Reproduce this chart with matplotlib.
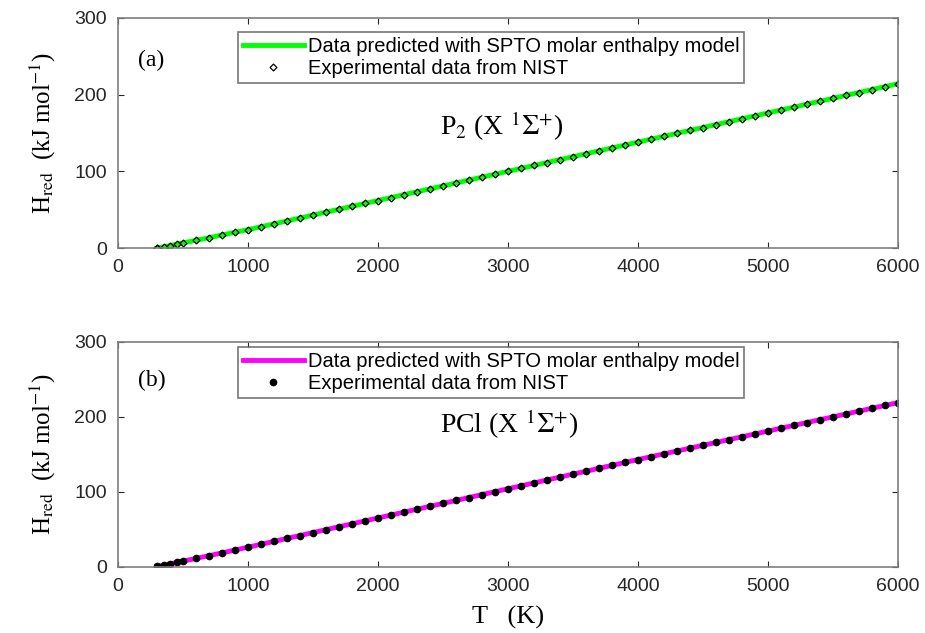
import numpy as np
import matplotlib
matplotlib.use('Agg')
import matplotlib.pyplot as plt

plt.rcParams['font.family'] = ['Liberation Sans', 'DejaVu Sans']
plt.rcParams['mathtext.fontset'] = 'stix'

# temperatures of the NIST (JANAF) table, K
T = [298.15, 300, 350, 400, 450, 500, 600, 700, 800, 900,
     1000, 1100, 1200, 1300, 1400, 1500, 1600, 1700, 1800, 1900,
     2000, 2100, 2200, 2300, 2400, 2500, 2600, 2700, 2800, 2900,
     3000, 3100, 3200, 3300, 3400, 3500, 3600, 3700, 3800, 3900,
     4000, 4100, 4200, 4300, 4400, 4500, 4600, 4700, 4800, 4900,
     5000, 5100, 5200, 5300, 5400, 5500, 5600, 5700, 5800, 5900, 6000]

# P2 reduced enthalpy, kJ/mol
H_p2 = [0.0, 0.06, 1.7, 3.4, 5.1, 6.8, 10.2, 13.6, 17.1, 20.6,
        24.1, 27.8, 31.6, 35.4, 39.2, 43.0, 46.8, 50.6, 54.4, 58.2,
        62.0, 65.8, 69.6, 73.4, 77.2, 81.0, 84.8, 88.6, 92.4, 96.2,
        100.0, 103.8, 107.6, 111.4, 115.2, 119.0, 122.8, 126.6, 130.4, 134.2,
        138.0, 141.8, 145.6, 149.4, 153.2, 157.0, 160.8, 164.6, 168.4, 172.2,
        176.0, 179.8, 183.6, 187.4, 191.2, 195.0, 198.8, 202.6, 206.4, 210.2, 214.0]

# PCl reduced enthalpy, kJ/mol
H_pcl = [0.0, 0.06, 1.8, 3.6, 5.4, 7.2, 10.8, 14.5, 18.2, 22.0,
         25.8, 29.7, 33.6, 37.5, 41.4, 45.3, 49.2, 53.1, 57.0, 60.9,
         64.8, 68.7, 72.6, 76.5, 80.4, 84.3, 88.2, 92.1, 96.0, 99.9,
         103.8, 107.7, 111.6, 115.5, 119.4, 123.3, 127.2, 131.1, 135.0, 138.9,
         142.8, 146.6, 150.4, 154.2, 158.0, 161.8, 165.6, 169.4, 173.2, 177.0,
         180.8, 184.6, 188.4, 192.2, 196.0, 199.8, 203.6, 207.4, 211.2, 215.0, 218.8]

fig = plt.figure(figsize=(9.25, 6.33), dpi=100)
ax1 = fig.add_axes([0.1276, 0.608, 0.843, 0.364])
ax2 = fig.add_axes([0.1276, 0.105, 0.843, 0.355])

serif = ['Liberation Serif', 'DejaVu Serif']

ax1.plot(T, H_p2, color='#00ff00', lw=3.5, label='Data predicted with SPTO molar enthalpy model')
ax1.plot(T, H_p2, ls='none', marker='D', ms=3.5, mfc='none', mec='black', mew=0.9,
         label='Experimental data from NIST')
ax2.plot(T, H_pcl, color='#ff00ff', lw=3.5, label='Data predicted with SPTO molar enthalpy model')
ax2.plot(T, H_pcl, ls='none', marker='o', ms=4.5, color='black',
         label='Experimental data from NIST')

for ax in (ax1, ax2):
    ax.set_xlim(0, 6000)
    ax.set_ylim(0, 300)
    ax.set_xticks(range(0, 6001, 1000))
    ax.set_yticks([0, 100, 200, 300])
    ax.tick_params(direction='in', length=4, labelsize=14, colors='#262626', top=True, right=True,
                   labeltop=False, labelright=False, pad=8)
    for s in ax.spines.values():
        s.set_color('#7f7f7f')
        s.set_linewidth(1.2)
    ax.set_ylabel(r'H$_{\rm red}$  (kJ mol$^{-1}$)', fontsize=18, family=serif, labelpad=12)

leg_kw = dict(fontsize=14.5, frameon=True, fancybox=False, edgecolor='#555555',
              handlelength=3.0, borderpad=0.25, labelspacing=0.15, handletextpad=0.2,
              borderaxespad=0)
l1 = ax1.legend(loc='upper left', bbox_to_anchor=(0.154, 0.94), **leg_kw)
l2 = ax2.legend(loc='upper left', bbox_to_anchor=(0.154, 0.978), **leg_kw)
for l in (l1, l2):
    l.get_frame().set_linewidth(1.2)

ax1.text(150, 245, '(a)', fontsize=17, family=serif, va='center')
ax2.text(150, 248, '(b)', fontsize=17, family=serif, va='center')
ax1.text(2480, 158, r'P$_2$ (X $^1\Sigma^{+}$)', fontsize=20, family=serif, va='center')
ax2.text(2480, 190, r'PCl (X $^1\Sigma^{+}$)', fontsize=20, family=serif, va='center')

ax2.set_xlabel('T   (K)', fontsize=19, family=serif, labelpad=8)

fig.savefig('out.png', dpi=100)
